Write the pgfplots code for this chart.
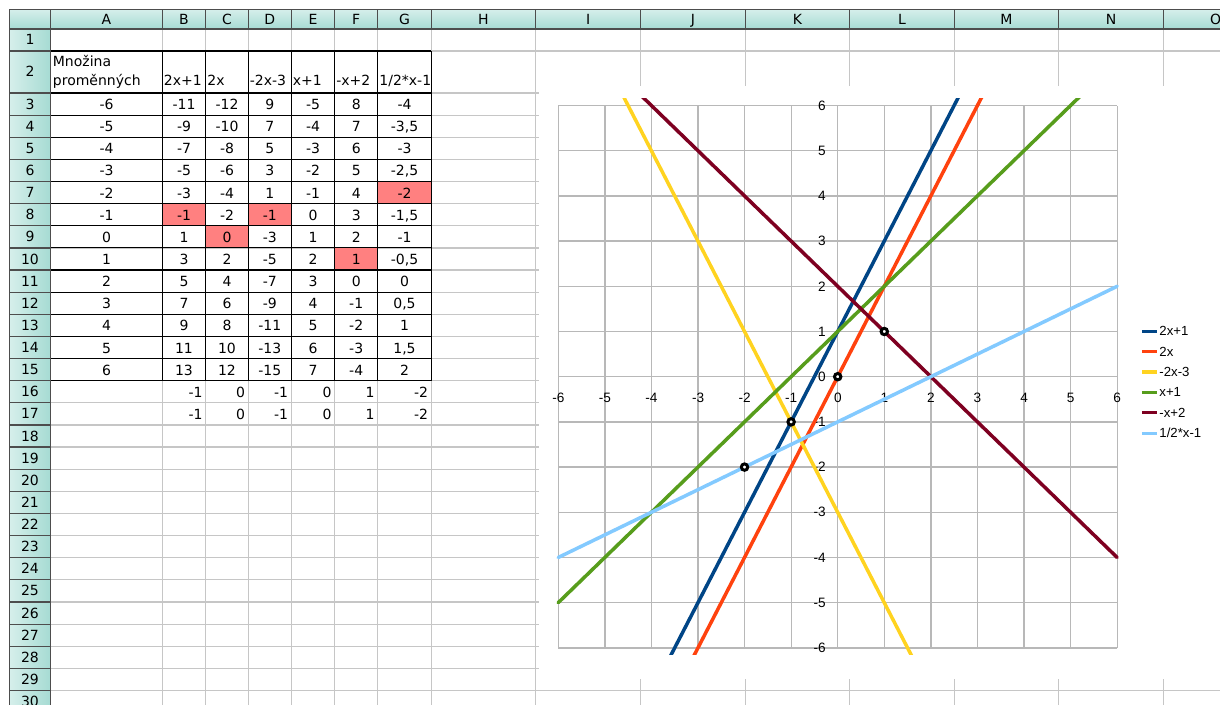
\documentclass[border=0pt]{standalone}
\usepackage{pgfplots}
\pgfplotsset{compat=1.18}
\usepackage{pgfplotstable}
\usepackage{fontspec}
\setmainfont{DejaVu Sans}
\newfontfamily\chartfont{Liberation Sans}
\definecolor{gridc}{HTML}{C6C6C6}
\definecolor{hdrA}{HTML}{D6EFEB}
\definecolor{hdrB}{HTML}{A6DBD3}
\definecolor{hdrline}{HTML}{4D4D4D}
\definecolor{hilite}{HTML}{FF8080}
\definecolor{cgrid}{HTML}{B8B8B8}
\definecolor{sA}{HTML}{004586}
\definecolor{sB}{HTML}{FF420E}
\definecolor{sC}{HTML}{FFD320}
\definecolor{sD}{HTML}{579D1C}
\definecolor{sE}{HTML}{7E0021}
\definecolor{sF}{HTML}{83CAFF}

\pgfplotstableread{
x a b c d e f
-6 -11 -12 9 -5 8 -4
-5 -9 -10 7 -4 7 -3.5
-4 -7 -8 5 -3 6 -3
-3 -5 -6 3 -2 5 -2.5
-2 -3 -4 1 -1 4 -2
-1 -1 -2 -1 0 3 -1.5
0 1 0 -3 1 2 -1
1 3 2 -5 2 1 -0.5
2 5 4 -7 3 0 0
3 7 6 -9 4 -1 0.5
4 9 8 -11 5 -2 1
5 11 10 -13 6 -3 1.5
6 13 12 -15 7 -4 2
}\lines

\pgfplotstableread{
x y
-2 -2
-1 -1
0 0
1 1
}\hits

\newcommand\datarow[8]{%
  \pgfmathsetmacro\yb{93+(#1-3)*22.13+16.6}%
  \node[anchor=base] at (106.5,\yb) {#2};
  \node[anchor=base] at (184,\yb) {#3};
  \node[anchor=base] at (227,\yb) {#4};
  \node[anchor=base] at (269.8,\yb) {#5};
  \node[anchor=base] at (313,\yb) {#6};
  \node[anchor=base] at (356.2,\yb) {#7};
  \node[anchor=base] at (404.5,\yb) {#8};
}
\newcommand\rightrow[1]{%
  \pgfmathsetmacro\yb{93+(#1-3)*22.13+16.6}%
  \node[anchor=base east] at (203,\yb) {-1};
  \node[anchor=base east] at (245.5,\yb) {0};
  \node[anchor=base east] at (288.5,\yb) {-1};
  \node[anchor=base east] at (332,\yb) {0};
  \node[anchor=base east] at (375,\yb) {1};
  \node[anchor=base east] at (428.5,\yb) {-2};
}

\begin{document}
\begin{tikzpicture}
\path[use as bounding box] (0,0) rectangle (610pt,-352.5pt);
\begin{scope}[x=0.5pt,y=-0.5pt,every node/.style={inner sep=0pt,font=\fontsize{7}{8}\selectfont}]
  \fill[white] (0,0) rectangle (1220,705);
  % light cell grid
  \foreach \xx in {50.7,162.3,205.7,248.3,291.3,334.7,377.7,431.3,535.8,640.6,745.4,849.6,954.4,1058.7,1163.3}
    \draw[gridc,line width=0.6pt] (\xx,29) -- (\xx,705);
  \draw[gridc,line width=0.6pt] (50.7,51) -- (1220,51);
  \foreach \k in {0,...,28}{
    \pgfmathsetmacro\yy{93+\k*22.13}
    \draw[gridc,line width=0.6pt] (50.7,\yy) -- (1220,\yy);
  }
  % chart object background
  \fill[white] (539,86.5) rectangle (1220,678.5);
  % highlighted cells
  \fill[hilite] (377.7,181.5) rectangle (431.3,203.65);
  \fill[hilite] (162.3,203.65) rectangle (205.7,225.8);
  \fill[hilite] (248.3,203.65) rectangle (291.3,225.8);
  \fill[hilite] (205.7,225.8) rectangle (248.3,247.9);
  \fill[hilite] (334.7,247.9) rectangle (377.7,270);
  % black table borders
  \draw[black,line width=0.55pt] (50.7,51) -- (431.3,51);
  \foreach \k in {0,...,13}{
    \pgfmathsetmacro\yy{93+\k*22.13}
    \draw[black,line width=0.55pt] (50.7,\yy) -- (431.3,\yy);
  }
  \foreach \xx in {50.7,162.3,205.7,248.3,291.3,334.7,377.7,431.3}
    \draw[black,line width=0.55pt] (\xx,51) -- (\xx,380.7);
  % headers
  \shade[top color=hdrA,bottom color=hdrB] (9.3,9.3) rectangle (1220,29);
  \shade[left color=hdrA,right color=hdrB] (9.3,29) rectangle (50.7,705);
  \foreach \xx in {50.7,162.3,205.7,248.3,291.3,334.7,377.7,431.3,535.8,640.6,745.4,849.6,954.4,1058.7,1163.3}
    \draw[hdrline,line width=0.6pt] (\xx,9.3) -- (\xx,29);
  \draw[hdrline,line width=0.6pt] (9.3,51) -- (50.7,51);
  \foreach \k in {0,...,28}{
    \pgfmathsetmacro\yy{93+\k*22.13}
    \draw[hdrline,line width=0.6pt] (9.3,\yy) -- (50.7,\yy);
  }
  \draw[hdrline,line width=0.6pt] (1220,9.3) -- (9.3,9.3) -- (9.3,705);
  \draw[hdrline,line width=0.6pt] (9.3,29) -- (1220,29);
  \draw[hdrline,line width=0.6pt] (50.7,9.3) -- (50.7,705);
  % column letters
  \foreach \c/\xx in {A/106.5,B/184,C/227,D/269.8,E/313,F/356.2,G/404.5,H/483.5,I/588.2,J/693,K/797.5,L/902,M/1006.5,N/1111,O/1215.6}
    \node[anchor=base] at (\xx,24.2) {\c};
  % row numbers
  \node[anchor=base] at (30,45) {1};
  \node[anchor=base] at (30,77) {2};
  \foreach \r in {3,...,30}{
    \pgfmathsetmacro\yb{93+(\r-3)*22.13+16.1}
    \node[anchor=base] at (30,\yb) {\r};
  }
  % row 2 headings
  \node[anchor=base west] at (52.5,66.5) {Množina};
  \node[anchor=base west] at (52.5,86) {proměnných};
  \node[anchor=base west] at (163.5,86) {2x+1};
  \node[anchor=base west] at (207,86) {2x};
  \node[anchor=base west] at (249.5,86) {-2x-3};
  \node[anchor=base west] at (292.5,86) {x+1};
  \node[anchor=base west] at (336,86) {-x+2};
  \node[anchor=base west] at (379,86) {1/2*x-1};
  % table values
  \datarow{3}{-6}{-11}{-12}{9}{-5}{8}{-4}
  \datarow{4}{-5}{-9}{-10}{7}{-4}{7}{-3,5}
  \datarow{5}{-4}{-7}{-8}{5}{-3}{6}{-3}
  \datarow{6}{-3}{-5}{-6}{3}{-2}{5}{-2,5}
  \datarow{7}{-2}{-3}{-4}{1}{-1}{4}{-2}
  \datarow{8}{-1}{-1}{-2}{-1}{0}{3}{-1,5}
  \datarow{9}{0}{1}{0}{-3}{1}{2}{-1}
  \datarow{10}{1}{3}{2}{-5}{2}{1}{-0,5}
  \datarow{11}{2}{5}{4}{-7}{3}{0}{0}
  \datarow{12}{3}{7}{6}{-9}{4}{-1}{0,5}
  \datarow{13}{4}{9}{8}{-11}{5}{-2}{1}
  \datarow{14}{5}{11}{10}{-13}{6}{-3}{1,5}
  \datarow{15}{6}{13}{12}{-15}{7}{-4}{2}
  \rightrow{16}
  \rightrow{17}
\end{scope}

% grid / tick-label axis
\begin{axis}[
  at={(279.15pt,-323.95pt)}, anchor=south west,
  x=23.29pt, y=22.6pt,
  xmin=-6, xmax=6, ymin=-6, ymax=6,
  axis line style={draw=none},
  grid=major,
  major grid style={cgrid,line width=0.65pt},
  major tick length=0pt,
  xtick={-6,-5,-4,-3,-2,-1,0,1,2,3,4,5,6},
  ytick={-6,-5,-4,-3,-2,-1,0,1,2,3,4,5,6},
  xticklabels={-6,-5,-4,-3,-2,-1,0,1,2,3,4,5,6},
  yticklabels={-6,-5,-4,-3,-2,-1,0,1,2,3,4,5,6},
  xticklabel style={anchor=center,inner sep=0pt,yshift=125.2pt,font=\chartfont\fontsize{6.8}{8}\selectfont},
  yticklabel style={anchor=east,inner sep=0pt,xshift=133.85pt,font=\chartfont\fontsize{6.8}{8}\selectfont},
]
\end{axis}

% series axis (clipped slightly beyond the plot area)
\begin{axis}[
  at={(272.12pt,-327.34pt)}, anchor=south west,
  x=23.29pt, y=22.6pt,
  xmin=-6.3, xmax=6.3, ymin=-6.15, ymax=6.15,
  hide axis,
  every axis plot/.append style={line width=1.75pt,line cap=round},
  legend cell align=left,
  legend image code/.code={\draw[#1,line width=1.6pt,line cap=butt] (0pt,0pt) -- (7.5pt,0pt);},
  legend style={at={(1.0148,0.5935)}, anchor=north west, draw=none, fill=none,
    inner sep=0pt, row sep=4.2pt, column sep=0pt,
    font=\chartfont\fontsize{6.6}{7}\selectfont,
    nodes={inner sep=0.5pt,text height=4.8pt,text depth=0.2pt}},
]
\addplot[sA] table[x=x,y=a]{\lines}; \addlegendentry{2x+1}
\addplot[sB] table[x=x,y=b]{\lines}; \addlegendentry{2x}
\addplot[sC] table[x=x,y=c]{\lines}; \addlegendentry{-2x-3}
\addplot[sD] table[x=x,y=d]{\lines}; \addlegendentry{x+1}
\addplot[sE] table[x=x,y=e]{\lines}; \addlegendentry{-x+2}
\addplot[sF] table[x=x,y=f]{\lines}; \addlegendentry{1/2*x-1}
\addplot[only marks, mark=*, mark size=1.6pt, forget plot,
  mark options={draw=black,fill=white,line width=1.5pt}] table[x=x,y=y]{\hits};
\end{axis}
\end{tikzpicture}
\end{document}
